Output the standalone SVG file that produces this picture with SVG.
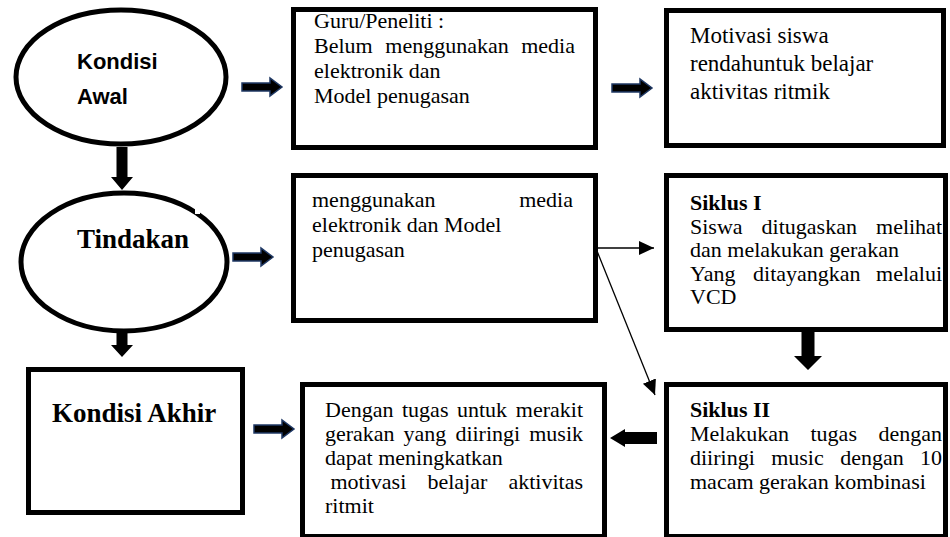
<svg xmlns="http://www.w3.org/2000/svg" xmlns:xlink="http://www.w3.org/1999/xlink" width="950" height="537" viewBox="0 0 950 537">
<style>
  .shape { fill: #ffffff; stroke: #000000; stroke-width: 5; }
  .txt { font-family: "Times New Roman", "Liberation Serif", Times, serif; font-weight: normal; font-style: normal; font-size: 22px; fill: #000000; }
  .big { font-size: 23px; }
  .end { text-anchor: end; }
  .hd { font-family: "Liberation Serif", "Times New Roman", serif; font-weight: bold; font-size: 22px; fill: #000000; }
  .title { font-family: "Liberation Serif", "Times New Roman", serif; font-weight: bold; font-size: 27px; fill: #000000; }
  .sans { font-family: "Liberation Sans", Arial, sans-serif; font-weight: bold; font-size: 22px; fill: #000000; }
  .navy { fill: #000000; stroke: #1f3864; stroke-width: 1.5; stroke-linejoin: miter; }
  .blk { fill: #000000; stroke: none; }
  .thin { stroke: #000000; stroke-width: 1.3; fill: none; }
</style>
<defs>
  <path id="navyArrow" d="M0,-4 L28,-4 L28,-9 L40,0 L28,9 L28,4 L0,4 Z"/>
  <marker id="tri" markerUnits="userSpaceOnUse" markerWidth="16" markerHeight="16" refX="15" refY="7" orient="auto">
    <path d="M0,0 L15,7 L0,14 Z" fill="#000000"/>
  </marker>
</defs>
<rect width="950" height="537" fill="#ffffff"/>

<g id="kondisi-awal">
  <ellipse class="shape" cx="121" cy="77" rx="105" ry="67"/>
  <text class="sans" x="77" y="69">Kondisi</text>
  <text class="sans" x="77" y="104">Awal</text>
</g>

<g id="tindakan">
  <ellipse class="shape" cx="124" cy="262" rx="103" ry="69"/>
  <rect x="195" y="204" width="5" height="10" fill="#ffffff"/>
  <text class="title" x="77" y="248">Tindakan</text>
</g>

<g id="kondisi-akhir">
  <rect class="shape" x="28.5" y="369.5" width="214" height="143"/>
  <text class="title" x="52" y="422">Kondisi Akhir</text>
</g>

<g id="guru-peneliti">
  <rect class="shape" x="293.5" y="9.5" width="302" height="138"/>
  <text class="txt" x="314" y="28">Guru/Peneliti :</text>
  <text class="txt" y="53"><tspan x="314">Belum</tspan><tspan x="385.3">menggunakan</tspan></text>
  <text class="txt end" x="575" y="53">media</text>
  <text class="txt" x="314" y="78">elektronik dan</text>
  <text class="txt" x="314" y="103">Model penugasan</text>
</g>

<g id="motivasi">
  <rect class="shape" x="666.5" y="10.5" width="277" height="135"/>
  <text class="txt big" x="690" y="43">Motivasi siswa</text>
  <text class="txt big" x="690" y="71">rendahuntuk belajar</text>
  <text class="txt big" x="690" y="99">aktivitas ritmik</text>
</g>

<g id="menggunakan">
  <rect class="shape" x="293.5" y="175.5" width="302" height="145"/>
  <text class="txt" x="312" y="207">menggunakan</text>
  <text class="txt end" x="573" y="207">media</text>
  <text class="txt" x="312" y="232">elektronik dan Model</text>
  <text class="txt" x="312" y="257">penugasan</text>
</g>

<g id="siklus-1">
  <rect class="shape" x="666.5" y="175.5" width="279" height="154"/>
  <text class="hd" x="690" y="210">Siklus I</text>
  <text class="txt" y="233.5"><tspan x="690">Siswa</tspan><tspan x="761.6">ditugaskan</tspan></text>
  <text class="txt end" x="942" y="233.5">melihat</text>
  <text class="txt" x="690" y="257">dan melakukan gerakan</text>
  <text class="txt" y="280.5"><tspan x="690">Yang</tspan><tspan x="753.1">ditayangkan</tspan></text>
  <text class="txt end" x="942" y="280.5">melalui</text>
  <text class="txt" x="690" y="304">VCD</text>
</g>

<g id="siklus-2">
  <rect class="shape" x="666.5" y="384.5" width="279" height="152"/>
  <text class="hd" x="690" y="417">Siklus II</text>
  <text class="txt" y="441"><tspan x="690">Melakukan</tspan><tspan x="810.5">tugas</tspan></text>
  <text class="txt end" x="942" y="441">dengan</text>
  <text class="txt" y="465"><tspan x="690">diiringi</tspan><tspan x="771.2">music</tspan><tspan x="840.2">dengan</tspan></text>
  <text class="txt end" x="942" y="465">10</text>
  <text class="txt" x="690" y="489">macam gerakan kombinasi</text>
</g>

<g id="dengan-tugas">
  <rect class="shape" x="302.5" y="384.5" width="302" height="152"/>
  <text class="txt" y="417"><tspan x="325">Dengan</tspan><tspan x="402">tugas</tspan><tspan x="457">untuk</tspan></text>
  <text class="txt end" x="583" y="417">merakit</text>
  <text class="txt" y="441"><tspan x="325">gerakan</tspan><tspan x="403.6">yang</tspan><tspan x="455.4">diiringi</tspan></text>
  <text class="txt end" x="583" y="441">musik</text>
  <text class="txt" x="325" y="465">dapat meningkatkan</text>
  <text class="txt" y="489"><tspan x="330.5">motivasi</tspan><tspan x="427.4">belajar</tspan></text>
  <text class="txt end" x="583" y="489">aktivitas</text>
  <text class="txt" x="325" y="513">ritmit</text>
</g>

<g id="connectors">
  <use xlink:href="#navyArrow" class="navy" x="242" y="87"/>
  <use xlink:href="#navyArrow" class="navy" x="612" y="88"/>
  <use xlink:href="#navyArrow" class="navy" x="233" y="257"/>
  <use xlink:href="#navyArrow" class="navy" x="254" y="429"/>
  <polygon class="blk" points="116.5,147 127.5,147 127.5,177 133,177 122,190 111,177 116.5,177"/>
  <polygon class="blk" points="116.5,333 127.5,333 127.5,345 133,345 122,357 111,345 116.5,345"/>
  <polygon class="blk" points="801.5,332 814.5,332 814.5,356 822,356 808,370 794,356 801.5,356"/>
  <polygon class="blk" points="657,432 625,432 625,429 610,438 625,447 625,444 657,444"/>
  <line class="thin" x1="597" y1="248" x2="654" y2="248" marker-end="url(#tri)"/>
  <line class="thin" x1="597" y1="251" x2="655" y2="395" marker-end="url(#tri)"/>
</g>
</svg>
